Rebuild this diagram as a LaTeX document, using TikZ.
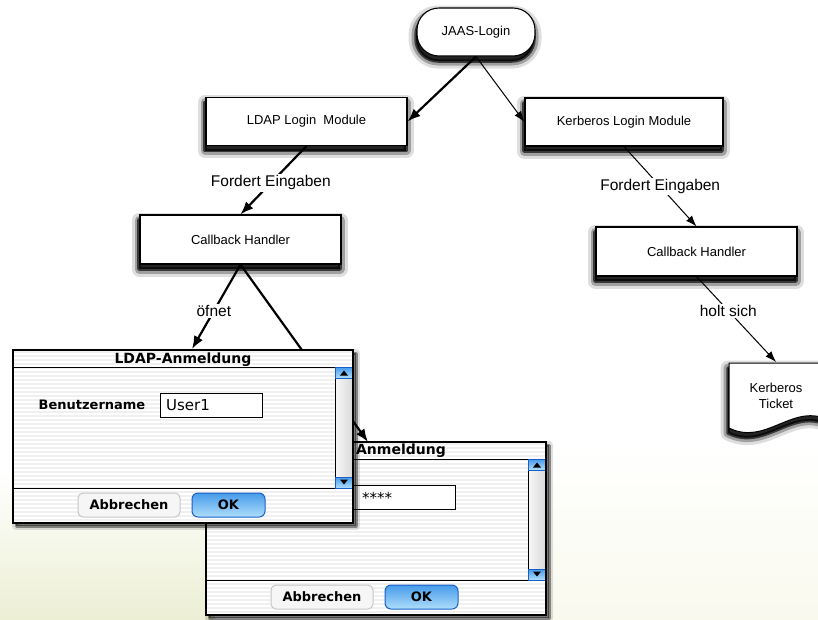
\documentclass[tikz,border=0pt]{standalone}
\usepackage{fontspec}
\setmainfont{Liberation Sans}
\newfontfamily\dlgfont{DejaVu Sans}
\usetikzlibrary{arrows.meta,shadows,calc}
\definecolor{bgA}{RGB}{236,239,212}
\definecolor{bgB}{RGB}{249,249,238}
\definecolor{stripecol}{RGB}{240,240,240}
\definecolor{oktop}{RGB}{70,155,235}
\definecolor{okbot}{RGB}{175,222,250}
\definecolor{okborder}{RGB}{25,95,200}
\newcommand\mydialog[3]{%
\begin{scope}[shift={(#1,#2)}]
  \node[dlgframe] (#3) at (170,86.5) {};
  \foreach \s in {2,6,...,172} \draw[stripe] (0.6,\s) -- (339.4,\s);
  \shade[left color=gray!6, right color=gray!30] (322,17) rectangle (340,138);
  \draw[line width=0.8pt] (322,17) -- (322,138);
  \draw[line width=1pt] (0,17) -- (340,17);
  \draw[line width=1pt] (0,138) -- (340,138);
  \node[scrollbtn] (#3up) at (331,22.5) {};
  \fill (327,25.5) -- (335,25.5) -- (331,20.5) -- cycle;
  \node[scrollbtn] (#3down) at (331,132.5) {};
  \fill (327,129.5) -- (335,129.5) -- (331,134.5) -- cycle;
  \node[field] (#3field) at (198,55) {};
  \node[btngray] (#3cancel) at (116,155) {Abbrechen};
  \node[btnblue] (#3ok) at (215.5,155) {OK};
  \draw[line width=1.4pt] (0,0) rectangle (340,173);
\end{scope}}
\tikzset{
  softshadow/.style={
    general shadow={fill=black, draw=black, opacity=0.13, line width=15pt, line join=round, shadow xshift=-1pt, shadow yshift=-5pt},
    general shadow={fill=black, draw=black, opacity=0.28, line width=9pt, line join=round, shadow xshift=-1pt, shadow yshift=-5pt},
    general shadow={fill=black, draw=black, opacity=0.65, line width=3.5pt, line join=round, shadow xshift=-1pt, shadow yshift=-5pt}},
  box/.style={draw=black, line width=1.1pt, fill=white, minimum width=201pt,
    minimum height=48pt, font=\fontsize{13}{15}\selectfont, softshadow},
  elabel/.style={fill=white, inner sep=1.5pt, font=\fontsize{15.5}{18}\selectfont},
  thickarrow/.style={line width=2.2pt, -{Latex[length=13pt,width=10pt]}},
  thinarrow/.style={line width=1pt, -{Latex[length=11pt,width=8pt]}},
  stripe/.style={draw=stripecol, line width=1.4pt},
  dlgframe/.style={fill=white, minimum width=340pt, minimum height=173pt, inner sep=0pt,
    general shadow={fill=black, draw=black, opacity=0.12, line width=8pt, line join=round, shadow xshift=3pt, shadow yshift=-3pt},
    general shadow={fill=black, draw=black, opacity=0.4, line width=3pt, line join=round, shadow xshift=3pt, shadow yshift=-3pt}},
  scrollbtn/.style={draw=okborder, line width=0.8pt, top color=oktop, bottom color=okbot,
    minimum width=18pt, minimum height=11pt, inner sep=0pt},
  field/.style={draw=black, line width=1pt, fill=white, minimum width=102pt, minimum height=24pt, inner sep=0pt},
  btngray/.style={rounded corners=5pt, draw=gray!45, line width=1pt, fill=gray!7,
    minimum width=102pt, minimum height=24pt, inner sep=0pt, font=\dlgfont\bfseries\fontsize{13}{15}\selectfont},
  btnblue/.style={rounded corners=6pt, draw=okborder, line width=1pt, top color=oktop, bottom color=okbot,
    minimum width=73pt, minimum height=24pt, inner sep=0pt, font=\dlgfont\bfseries\fontsize{13}{15}\selectfont},
  dlgtitle/.style={font=\dlgfont\bfseries\fontsize{14}{16}\selectfont, inner sep=0pt},
  dlgtext/.style={font=\dlgfont\fontsize{15}{17}\selectfont, inner sep=0pt},
}
\begin{document}
\begin{tikzpicture}[x=1pt,y=-1pt]
\useasboundingbox (0,0) rectangle (818,619);
% faint background
\shade[top color=white, bottom color=bgA] (0,470) rectangle (215,619);
\shade[top color=white, bottom color=bgB] (548,440) rectangle (818,619);

% main nodes
\node[box, rounded corners=22pt, minimum width=118pt, minimum height=48pt] (jaas) at (476,32) {JAAS-Login};
\node[box] (ldap) at (306.5,121.5) {LDAP Login~ Module};
\node[box, minimum width=198pt] (kerb) at (624,122) {Kerberos Login Module};
\node[box, minimum height=49pt] (cbL) at (240.5,239.5) {Callback Handler};
\node[box, minimum height=49pt] (cbR) at (696.5,251.5) {Callback Handler};

% ticket document
\draw[fill=white, line width=1pt, softshadow]
  (729,363) -- (826,363) -- (826,419) .. controls (792,404) and (765,446) .. (729,428) -- cycle;
\coordinate (tk) at (776,362);
\node[font=\fontsize{13}{16}\selectfont, align=center] (ticket) at (776,396) {Kerberos\\Ticket};

% connectors top part
\draw[thickarrow] (jaas.south) -- (ldap.east);
\draw[thinarrow] (jaas.south) -- (kerb.west);
\draw[thickarrow] (ldap.south) -- node[elabel, pos=0.54] (lblL) {Fordert Eingaben} (cbL.north);
\draw[thinarrow] (kerb.south) -- node[elabel, pos=0.5] (lblR) {Fordert Eingaben} (cbR.north);
\draw[thinarrow] (cbR.south) -- node[elabel, pos=0.4] (lblH) {holt sich} (tk);

% second dialog
\mydialog{206}{442}{dB}
\node[dlgtitle, anchor=east] (dBtitle) at (446,451) {Anmeldung};
\node[dlgtext, anchor=west] (dBpw) at (362,498) {****};

% connectors to dialogs
\coordinate (dAin) at (192,349);
\coordinate (dBin) at (368,442);
\draw[thickarrow] (cbL.south) -- node[elabel, pos=0.55] (lblO) {öfnet} (dAin);
\draw[thickarrow] (cbL.south) -- (dBin);

% first dialog
\mydialog{13}{350}{dA}
\node[dlgtitle] (dAtitle) at (183,359.5) {LDAP-Anmeldung};
\node[font=\dlgfont\bfseries\fontsize{13}{15}\selectfont, inner sep=0pt] (dAlabel) at (92,405) {Benutzername};
\node[dlgtext, anchor=west] (dAuser) at (166,405) {User1};
\end{tikzpicture}
\end{document}
